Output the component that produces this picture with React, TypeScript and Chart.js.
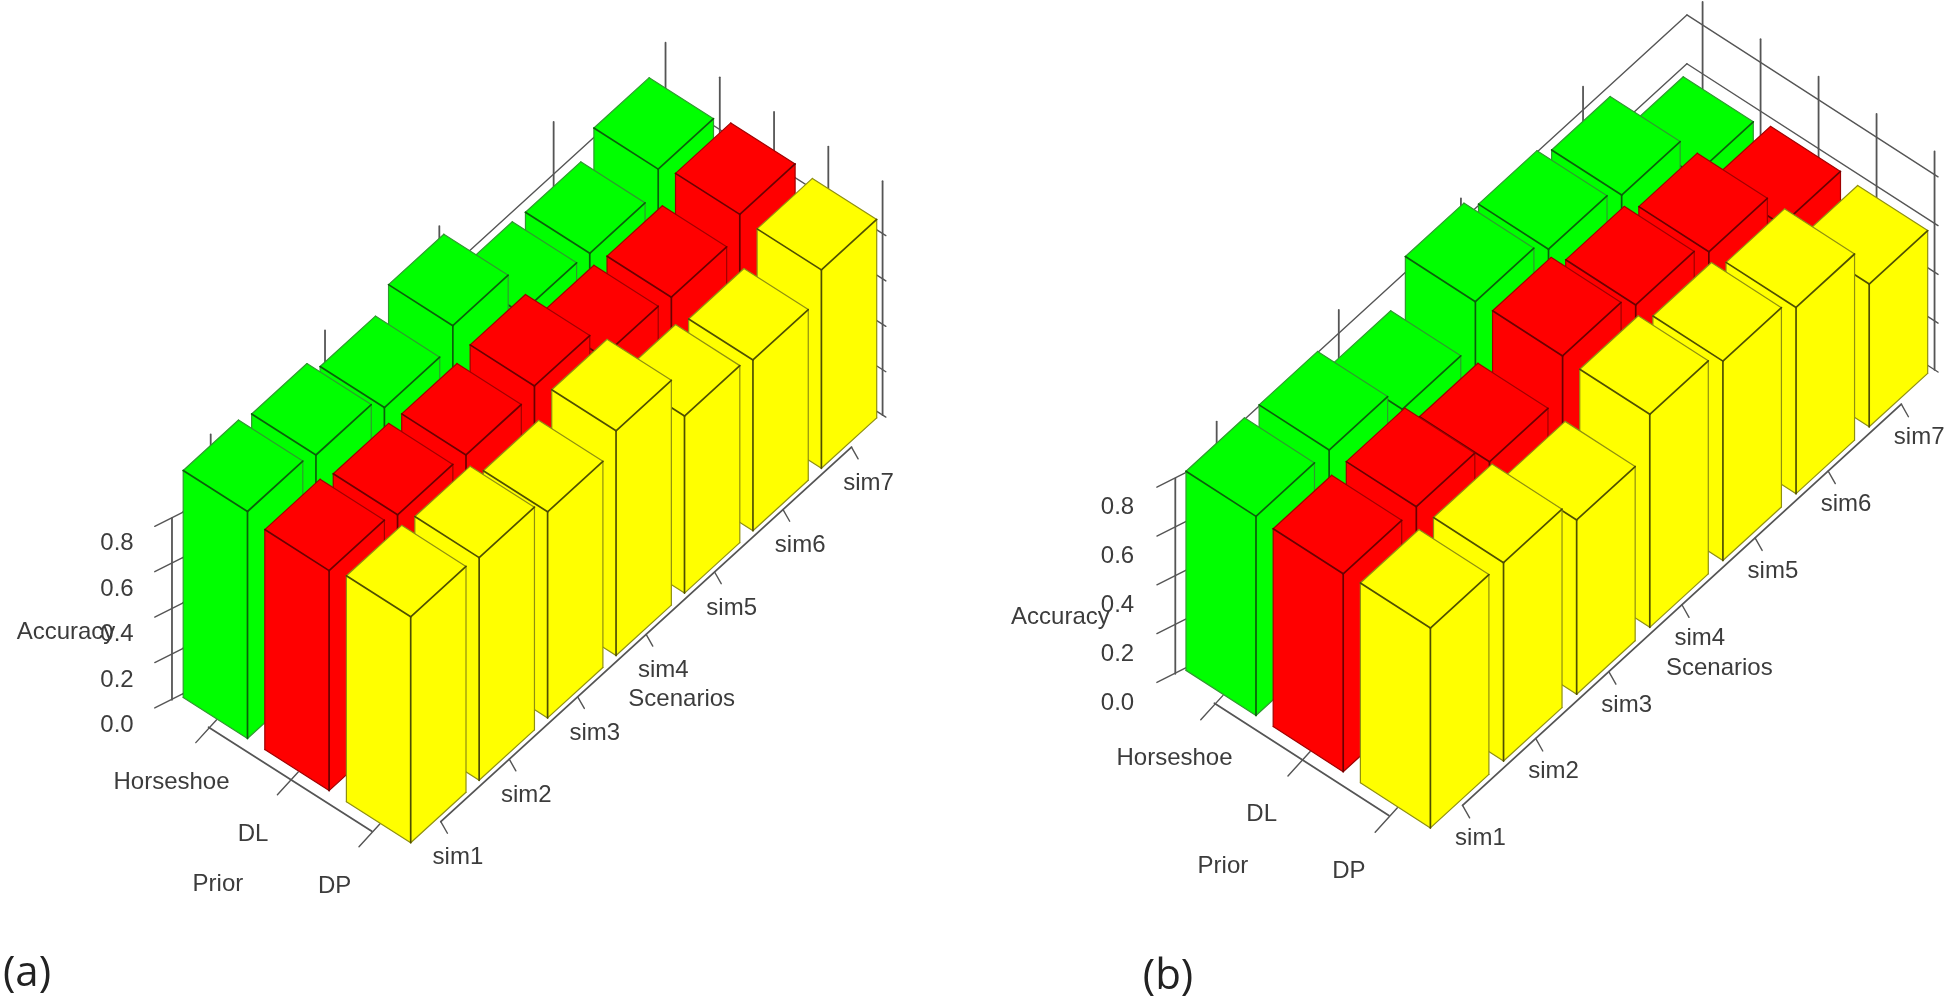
import React, { useEffect, useRef } from "react";
import { Chart, registerables } from "chart.js";

Chart.register(...registerables);

const SIMS = ["sim1", "sim2", "sim3", "sim4", "sim5", "sim6", "sim7"];
const PRIORS = ["Horseshoe", "DL", "DP"];
const VALUE_TICKS = [0, 0.2, 0.4, 0.6, 0.8];

// panel (a): accuracy per scenario
const A_HORSESHOE = [1.0, 0.974, 0.908, 0.994, 0.774, 0.763, 0.859];
const A_DL = [0.969, 0.94, 0.929, 0.958, 0.812, 0.799, 0.889];
const A_DP = [0.995, 0.981, 0.908, 0.99, 0.78, 0.752, 0.874];

// panel (b): accuracy per scenario
const B_HORSESHOE = [0.816, 0.814, 0.707, 0.874, 0.815, 0.763, 0.57];
const B_DL = [0.811, 0.812, 0.722, 0.882, 0.817, 0.761, 0.597];
const B_DP = [0.819, 0.813, 0.714, 0.873, 0.817, 0.763, 0.585];

const COLORS = ["#00ff00", "#ff0000", "#ffff00"];
const EDGE_DARK = ["#0b5f0b", "#6a0000", "#4f4f00"];
const EDGE_SOFT = ["#2f9a2f", "#a00000", "#8f8f10"];
const LINE = "#555555";
const TEXT = "#3c3c3c";
const FONT = '24px "Liberation Sans", Arial, sans-serif';

const PANELS = [
  {
    X0: 247.5, Y0: 738.5, Ux: 68.45, Uy: -62.4, Vx: 81.6, Vy: 52.1, Z: 227,
    simEdge: 0.808, priorEdge: 0.788, wallTop: 1.03,
    valueX: 117, valueY0: 725.4,
    simLabel: [47.2, 15], priorLabel: [-76, 43.5],
    accuracy: [66, 632.7], priorTitle: [217.9, 884.5], scenarios: [681.7, 699],
    tag: "(a)", tagPos: [27, 974],
    series: [A_HORSESHOE, A_DL, A_DP],
  },
  {
    X0: 1256, Y0: 715.5, Ux: 73.13, Uy: -66.85, Vx: 87.2, Vy: 56.2, Z: 244,
    simEdge: 0.8, priorEdge: 0.803, wallTop: 0.895,
    valueX: 1117.5, valueY0: 702.9,
    simLabel: [50, 10.7], priorLabel: [-81.5, 43],
    accuracy: [1060.4, 617.7], priorTitle: [1222.9, 866], scenarios: [1719.3, 668.3],
    tag: "(b)", tagPos: [1168, 977],
    series: [B_HORSESHOE, B_DL, B_DP],
  },
];

const S_MAX = 6.87;
const S_MIN = 0.03;
const P_MIN = -0.82;
const P_MAX = 2.03;

type Panel = (typeof PANELS)[number];

function project(pn: Panel, s: number, p: number, z: number) {
  return {
    x: pn.X0 + pn.Ux * s + pn.Vx * p,
    y: pn.Y0 + pn.Uy * s + pn.Vy * p - pn.Z * z,
  };
}

const datasets = PANELS.flatMap((pn, panelIndex) =>
  pn.series.map((values, priorIndex) => ({
    label: `${pn.tag} ${PRIORS[priorIndex]}`,
    panelIndex,
    priorIndex,
    values,
    data: values.map((v, i) => project(pn, i, priorIndex, v)),
    pointRadius: 0,
    showLine: false,
  }))
);

const bars3d = {
  id: "bars3d",
  beforeDatasetsDraw(chart: any) {
    const { ctx, scales } = chart;
    const px = (pt: { x: number; y: number }): [number, number] => [
      scales.x.getPixelForValue(pt.x),
      scales.y.getPixelForValue(pt.y),
    ];
    const line = (a: any, b: any, color: string, w: number) => {
      const [x1, y1] = px(a);
      const [x2, y2] = px(b);
      ctx.strokeStyle = color;
      ctx.lineWidth = w;
      ctx.beginPath();
      ctx.moveTo(x1, y1);
      ctx.lineTo(x2, y2);
      ctx.stroke();
    };
    const poly = (pts: any[], fill: string) => {
      ctx.fillStyle = fill;
      ctx.beginPath();
      pts.forEach((pt, i) => {
        const [x, y] = px(pt);
        if (i === 0) ctx.moveTo(x, y);
        else ctx.lineTo(x, y);
      });
      ctx.closePath();
      ctx.fill();
    };
    const label = (text: string, x: number, y: number) => {
      const [a, b] = px({ x, y });
      ctx.fillStyle = TEXT;
      ctx.fillText(text, a, b);
    };

    ctx.save();
    ctx.lineCap = "round";
    ctx.lineJoin = "round";

    PANELS.forEach((pn, panelIndex) => {
      // walls: grid lines on the left wall and on the back wall
      VALUE_TICKS.forEach((z) => {
        line(project(pn, S_MIN, P_MIN, z), project(pn, S_MAX, P_MIN, z), LINE, 1.4);
        line(project(pn, S_MAX, P_MIN, z), project(pn, S_MAX, P_MAX + 0.03, z), LINE, 1.4);
        // value-axis tick
        line(project(pn, S_MIN, P_MIN, z), project(pn, -0.27, P_MIN - 0.09, z), LINE, 1.4);
      });
      [0.44, 2.11, 3.78, 5.45].forEach((s) =>
        line(project(pn, s, P_MIN, 0), project(pn, s, P_MIN, pn.wallTop), LINE, 1.8)
      );
      [-0.64, 0.025, 0.69, 1.355, 2.02].forEach((p) =>
        line(project(pn, S_MAX, p, 0), project(pn, S_MAX, p, pn.wallTop), LINE, 1.8)
      );
      // value axis line
      line(
        project(pn, -0.09, P_MIN - 0.03, 0),
        project(pn, -0.09, P_MIN - 0.03, VALUE_TICKS[VALUE_TICKS.length - 1]),
        LINE,
        1.8
      );
      // prior axis
      line(project(pn, -0.127, -0.37, 0), project(pn, -0.127, 1.63, 0), LINE, 1.8);
      PRIORS.forEach((_, i) =>
        line(project(pn, -0.01, i - 0.37, 0), project(pn, -0.35, i - 0.34, 0), LINE, 1.4)
      );
      // scenario axis
      line(project(pn, 0.38, 2.05, 0), project(pn, 6.38, 2.05, 0), LINE, 1.8);
      SIMS.forEach((_, i) =>
        line(project(pn, i + 0.38, 2.05, 0), project(pn, i + 0.31, 2.19, 0), LINE, 1.4)
      );

      // bars: far row first, far scenario first
      chart.data.datasets
        .filter((d: any) => d.panelIndex === panelIndex)
        .sort((a: any, b: any) => a.priorIndex - b.priorIndex)
        .forEach((d: any) => {
          const p = d.priorIndex;
          for (let s = d.values.length - 1; s >= 0; s--) {
            const v = d.values[s];
            const se = pn.simEdge;
            const pe = pn.priorEdge;
            const F = d.data[s];
            const F0 = project(pn, s, p, 0);
            const R = project(pn, s + se, p, v);
            const R0 = project(pn, s + se, p, 0);
            const L = project(pn, s, p - pe, v);
            const L0 = project(pn, s, p - pe, 0);
            const B = project(pn, s + se, p - pe, v);
            const c = COLORS[p];
            poly([L, F, F0, L0], c);
            poly([F, R, R0, F0], c);
            poly([F, R, B, L], c);
            const soft = EDGE_SOFT[p];
            const dark = EDGE_DARK[p];
            line(L, L0, soft, 1.2);
            line(L0, F0, soft, 1.2);
            line(F0, R0, soft, 1.2);
            line(R0, R, soft, 1.2);
            line(R, B, soft, 1.2);
            line(B, L, soft, 1.2);
            line(F, F0, dark, 1.7);
            line(F, L, dark, 1.7);
            line(F, R, dark, 1.7);
          }
        });

      // text
      ctx.font = FONT;
      ctx.textAlign = "center";
      ctx.textBaseline = "middle";
      VALUE_TICKS.forEach((z) =>
        label(z.toFixed(1), pn.valueX, pn.valueY0 - pn.Z * z)
      );
      SIMS.forEach((name, i) => {
        const b = project(pn, i, 2, 0);
        label(name, b.x + pn.simLabel[0], b.y + pn.simLabel[1]);
      });
      PRIORS.forEach((name, i) => {
        const b = project(pn, 0, i, 0);
        label(name, b.x + pn.priorLabel[0], b.y + pn.priorLabel[1]);
      });
      label("Accuracy", pn.accuracy[0], pn.accuracy[1]);
      label("Prior", pn.priorTitle[0], pn.priorTitle[1]);
      label("Scenarios", pn.scenarios[0], pn.scenarios[1]);

      ctx.font = '42px "Open Sans", sans-serif';
      ctx.fillStyle = "#222222";
      const [tx, ty] = px({ x: pn.tagPos[0], y: pn.tagPos[1] });
      ctx.fillText(pn.tag, tx, ty);
    });
    ctx.restore();
  },
};

export default function App() {
  const ref = useRef<HTMLCanvasElement | null>(null);
  useEffect(() => {
    const chart = new Chart(ref.current as HTMLCanvasElement, {
      type: "scatter",
      data: { datasets: datasets as any },
      options: {
        animation: false,
        responsive: false,
        layout: { padding: 0 },
        plugins: { legend: { display: false }, tooltip: { enabled: false } },
        scales: {
          x: { type: "linear", min: 0, max: 1949, display: false },
          y: { type: "linear", min: 0, max: 999, reverse: true, display: false },
        },
      },
      plugins: [bars3d],
    } as any);
    return () => chart.destroy();
  }, []);
  return (
    <div style={{ position: "absolute", left: 0, top: 0, width: 1949, height: 999, background: "#fff" }}>
      <canvas ref={ref} width={1949} height={999} style={{ display: "block" }} />
    </div>
  );
}
